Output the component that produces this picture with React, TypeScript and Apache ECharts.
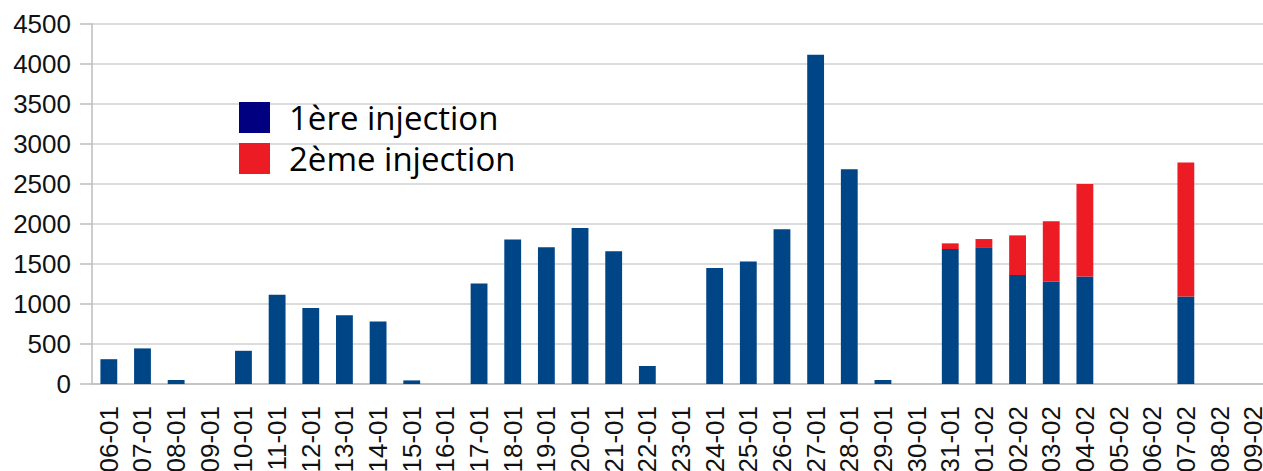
import React, { useEffect, useRef } from "react";
import * as echarts from "echarts";

const categories = [
  "06-01", "07-01", "08-01", "09-01", "10-01", "11-01", "12-01", "13-01", "14-01", "15-01",
  "16-01", "17-01", "18-01", "19-01", "20-01", "21-01", "22-01", "23-01", "24-01", "25-01",
  "26-01", "27-01", "28-01", "29-01", "30-01", "31-01", "01-02", "02-02", "03-02", "04-02",
  "05-02", "06-02", "07-02", "08-02", "09-02",
];

const firstInjection = [
  310, 445, 50, 0, 415, 1115, 950, 860, 780, 45,
  0, 1255, 1805, 1710, 1950, 1660, 225, 0, 1450, 1530,
  1935, 4115, 2685, 50, 0, 1687, 1708, 1362, 1279, 1345,
  0, 0, 1095, 0, 0,
];

const secondInjection = [
  0, 0, 0, 0, 0, 0, 0, 0, 0, 0,
  0, 0, 0, 0, 0, 0, 0, 0, 0, 0,
  0, 0, 0, 0, 0, 71, 104, 496, 754, 1155,
  0, 0, 1675, 0, 0,
];

const seriesNames = ["1ère injection", "2ème injection"];
const yTicks = { min: 0, max: 4500, interval: 500 };

export default function App() {
  const ref = useRef<HTMLDivElement>(null);

  useEffect(() => {
    if (!ref.current) return;
    const chart = echarts.init(ref.current, undefined, { renderer: "svg" });
    const axisColor = "#bdbdbd";
    chart.setOption({
      animation: false,
      backgroundColor: "#ffffff",
      grid: {
        left: 92,
        top: 24,
        bottom: 87,
        right: -7,
        containLabel: false,
        outerBoundsMode: "none",
      },
      legend: {
        orient: "vertical",
        left: 234,
        top: 96,
        itemWidth: 31,
        itemHeight: 31,
        itemGap: 8,
        icon: "rect",
        data: [
          { name: seriesNames[0], itemStyle: { color: "#000080" } },
          { name: seriesNames[1], itemStyle: { color: "#ed1c24" } },
        ],
        textStyle: {
          fontFamily: "Open Sans",
          fontSize: 33,
          color: "#000",
          lineHeight: 31,
          padding: [0, 0, 0, 14],
        },
      },
      xAxis: {
        type: "category",
        data: categories,
        axisLine: { lineStyle: { color: axisColor, width: 1.5 } },
        axisTick: { length: 12, lineStyle: { color: axisColor, width: 1.5 } },
        axisLabel: {
          rotate: 90,
          margin: 22,
          fontFamily: "Liberation Sans",
          fontSize: 26,
          color: "#111",
          interval: 0,
        },
        splitLine: { show: false },
      },
      yAxis: {
        type: "value",
        min: yTicks.min,
        max: yTicks.max,
        interval: yTicks.interval,
        axisLine: { show: true, lineStyle: { color: axisColor, width: 1.5 } },
        axisTick: { show: true, length: 12, lineStyle: { color: axisColor, width: 1.5 } },
        axisLabel: {
          margin: 21,
          fontFamily: "Liberation Sans",
          fontSize: 26,
          color: "#111",
          formatter: (v: number) => String(v),
        },
        splitLine: { lineStyle: { color: "#d0d0d0", width: 1.5 } },
      },
      series: [
        {
          name: seriesNames[0],
          type: "bar",
          stack: "total",
          barWidth: "50%",
          data: firstInjection,
          itemStyle: { color: "#004586" },
        },
        {
          name: seriesNames[1],
          type: "bar",
          stack: "total",
          barWidth: "50%",
          data: secondInjection,
          itemStyle: { color: "#ed1c24" },
        },
      ],
    });
    return () => chart.dispose();
  }, []);

  return (
    <div
      ref={ref}
      style={{ position: "absolute", left: 0, top: 0, width: 1263, height: 471, overflow: "hidden" }}
    />
  );
}
